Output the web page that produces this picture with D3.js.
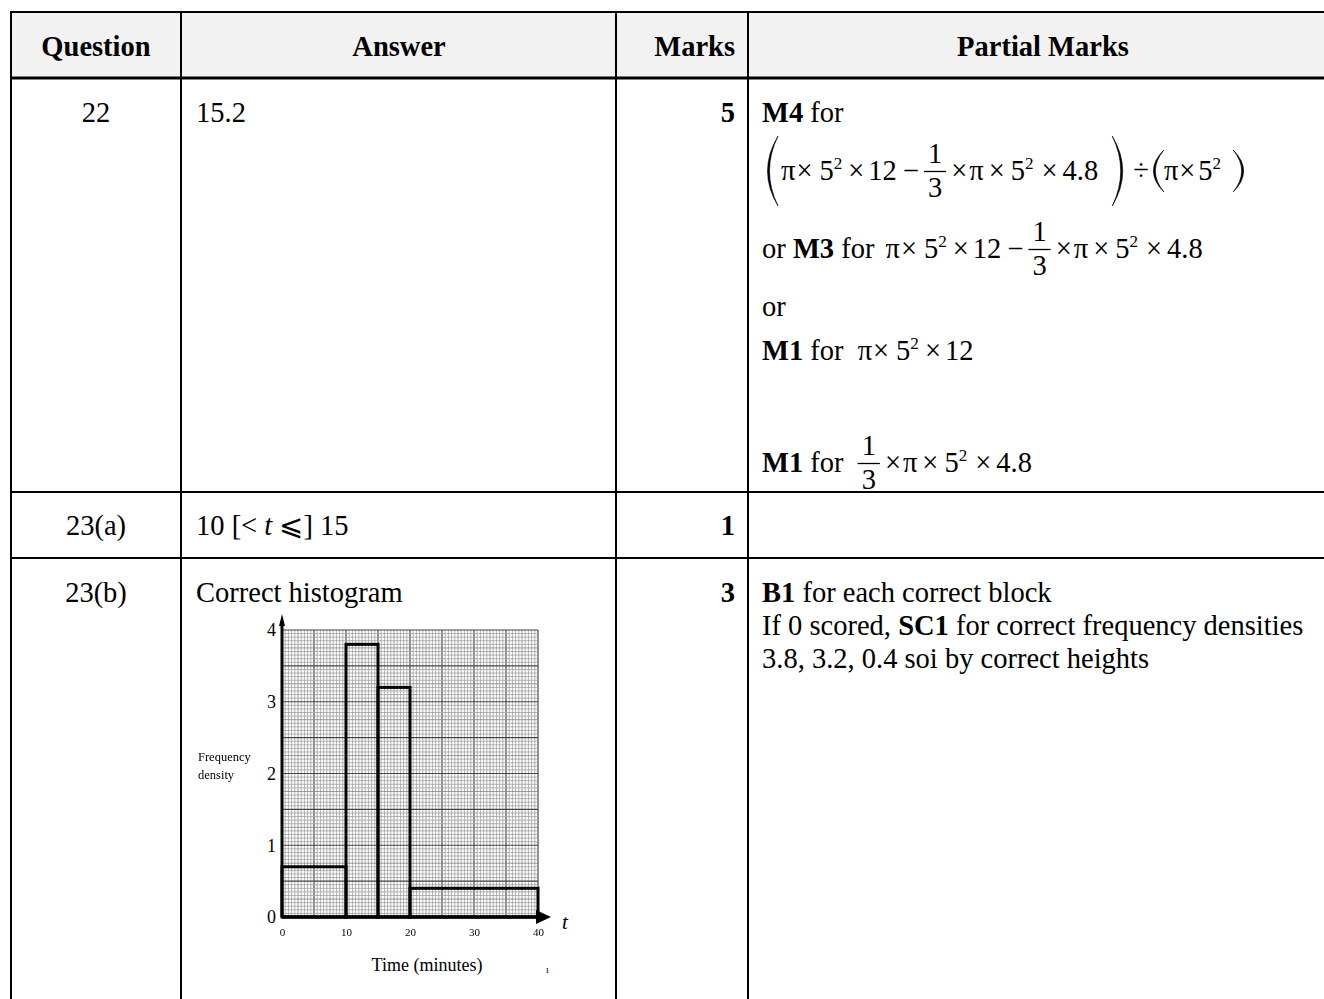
<!DOCTYPE html>
<html>
<head>
<meta charset="utf-8">
<script src="https://cdn.jsdelivr.net/npm/d3@7/dist/d3.min.js"></script>
<style>
  body { margin: 0; background: #fff; }
  svg { display: block; }
  text { font-family: "Liberation Serif", "Times New Roman", serif; fill: #000; white-space: pre; }
</style>
</head>
<body>
<svg id="chart" width="1324" height="999"></svg>
<script>
// histogram values (23(b))
var binStarts = [0, 10, 15, 20];
var binEnds = [10, 15, 20, 40];
var densities = [0.7, 3.8, 3.2, 0.4];
var xTicks = [0, 10, 20, 30, 40];
var yTicks = [0, 1, 2, 3, 4];

// table text
var headers = ["Question", "Answer", "Marks", "Partial Marks"];
var questions = ["22", "23(a)", "23(b)"];
var marks = ["5", "1", "3"];
var answers = [
  ["15.2"],
  ["10 [< ", {i: "t"}, " \u2A7D] 15"],
  ["Correct histogram"]
];
var partial23b = [
  [{b: "B1"}, " for each correct block"],
  ["If 0 scored, ", {b: "SC1"}, " for correct frequency densities"],
  ["3.8, 3.2, 0.4 soi by correct heights"]
];

var SIZE = 28.5;
var svg = d3.select("#chart");

// column / row borders
var colX = [11, 181, 616, 748];
var rowY = [12, 78, 492, 558];
var baseY = [122, 535, 602];

svg.append("rect").attr("x", 11).attr("y", 12).attr("width", 1313).attr("height", 66).attr("fill", "#f2f2f2");

// lays out a row of text pieces left to right, measuring each one
function put(g, x, y, items) {
  var cx = x;
  items.forEach(function (it) {
    if (typeof it === "number") { cx += it; return; }
    if (typeof it === "string") it = {t: it};
    if (it.f) {
      var num = g.append("text").attr("y", y - 17).attr("font-size", SIZE).attr("text-anchor", "middle").text(it.f[0]);
      var den = g.append("text").attr("y", y + 17).attr("font-size", SIZE).attr("text-anchor", "middle").text(it.f[1]);
      var w = Math.max(num.node().getComputedTextLength(), den.node().getComputedTextLength()) + 8;
      num.attr("x", cx + w / 2);
      den.attr("x", cx + w / 2);
      g.append("line").attr("x1", cx).attr("x2", cx + w).attr("y1", y - 8.5).attr("y2", y - 8.5)
        .attr("stroke", "#000").attr("stroke-width", 1.3);
      cx += w;
      return;
    }
    if (it.p) {
      var t = y + it.h[0], b = y + it.h[1], m = (t + b) / 2, pw = 11, d;
      if (it.p === "(") {
        d = "M" + (cx + pw) + "," + t + "Q" + (cx + 1 - pw) + "," + m + " " + (cx + pw) + "," + b +
            "Q" + (cx + 5 - pw) + "," + m + " " + (cx + pw) + "," + t + "Z";
      } else {
        d = "M" + cx + "," + t + "Q" + (cx + 2 * pw - 1) + "," + m + " " + cx + "," + b +
            "Q" + (cx + 2 * pw - 5) + "," + m + " " + cx + "," + t + "Z";
      }
      g.append("path").attr("d", d).attr("fill", "#000").attr("stroke", "#000").attr("stroke-width", 0.6);
      cx += pw;
      return;
    }
    var el = g.append("text")
      .attr("x", cx)
      .attr("y", it.s ? y - 11 : y)
      .attr("font-size", it.s ? SIZE * 0.6 : SIZE)
      .attr("font-weight", it.b ? "bold" : null)
      .attr("font-style", it.i ? "italic" : null)
      .text(it.s || it.b || it.i || it.t);
    cx += el.node().getComputedTextLength();
  });
  return cx;
}

var body = svg.append("g");

// header row
body.append("text").attr("x", 96).attr("y", 56).attr("text-anchor", "middle").attr("font-size", SIZE).attr("font-weight", "bold").text(headers[0]);
body.append("text").attr("x", 399).attr("y", 56).attr("text-anchor", "middle").attr("font-size", SIZE).attr("font-weight", "bold").text(headers[1]);
body.append("text").attr("x", 735).attr("y", 56).attr("text-anchor", "end").attr("font-size", SIZE).attr("font-weight", "bold").text(headers[2]);
body.append("text").attr("x", 1043).attr("y", 56).attr("text-anchor", "middle").attr("font-size", SIZE).attr("font-weight", "bold").text(headers[3]);

questions.forEach(function (q, i) {
  body.append("text").attr("x", 96).attr("y", baseY[i]).attr("text-anchor", "middle").attr("font-size", SIZE).text(q);
  body.append("text").attr("x", 735).attr("y", baseY[i]).attr("text-anchor", "end").attr("font-size", SIZE).attr("font-weight", "bold").text(marks[i]);
  put(body, 196, baseY[i], answers[i]);
});

// question 22 partial marks
var TIMES = "\u00D7", MINUS = "\u2212", PI = "\u03C0";
var third = {f: ["1", "3"]};
var cyl = [PI, 1, TIMES, 7, "5", {s: "2"}, 6, TIMES, 4, "12"];
var cone = [third, 5, TIMES, 2, PI, 5, TIMES, 6, "5", {s: "2"}, 8, TIMES, 5, "4.8"];
var vol = cyl.concat([6, MINUS, 5], cone);
put(body, 762, baseY[0], [{b: "M4"}, " for"]);
put(body, 767, 180, [{p: "(", h: [-44, 26]}, 3].concat(vol,
  [14, {p: ")", h: [-44, 26]}, 10, "\u00F7", 4, {p: "(", h: [-30, 12]}, 0, PI, 1, TIMES, 3, "5", {s: "2"}, 12, {p: ")", h: [-30, 12]}]));
put(body, 762, 258, ["or ", {b: "M3"}, " for ", 4].concat(vol));
put(body, 762, 316, ["or"]);
put(body, 762, 360, [{b: "M1"}, " for ", 7].concat(cyl));
put(body, 762, 472, [{b: "M1"}, " for ", 7].concat(cone));

partial23b.forEach(function (ln, i) {
  put(body, 762, baseY[2] + i * 33, ln);
});

// histogram
var x = d3.scaleLinear().domain([0, 40]).range([282, 538]);
var y = d3.scaleLinear().domain([0, 4]).range([917, 630]);

var defs = svg.append("defs");
defs.append("filter").attr("id", "soft").append("feGaussianBlur").attr("stdDeviation", 0.45);
defs.append("filter").attr("id", "fade").append("feGaussianBlur").attr("stdDeviation", 0.6);

var grid = svg.append("g").attr("filter", "url(#soft)");
grid.selectAll("line.v").data(d3.range(0, 40.01, 0.5)).join("line")
  .attr("x1", d => x(d)).attr("x2", d => x(d)).attr("y1", y(4)).attr("y2", y(0))
  .attr("stroke", d => d % 5 === 0 ? "#444" : (d % 2.5 === 0 ? "#888" : "#a4a4a4"))
  .attr("stroke-width", d => d % 5 === 0 ? 1.2 : 0.85);
grid.selectAll("line.h").data(d3.range(0, 80.5, 1)).join("line")
  .attr("x1", x(0)).attr("x2", x(40)).attr("y1", d => y(d / 20)).attr("y2", d => y(d / 20))
  .attr("stroke", d => d % 10 === 0 ? "#444" : (d % 5 === 0 ? "#888" : "#a4a4a4"))
  .attr("stroke-width", d => d % 10 === 0 ? 1.2 : 0.85);

svg.append("g").selectAll("rect").data(densities).join("rect")
  .attr("x", (d, i) => x(binStarts[i]))
  .attr("width", (d, i) => x(binEnds[i]) - x(binStarts[i]))
  .attr("y", d => y(d))
  .attr("height", d => y(0) - y(d))
  .attr("fill", "none").attr("stroke", "#000").attr("stroke-width", 3);

// axes
var yAxis = svg.append("g").attr("transform", "translate(" + x(0) + ",0)")
  .call(d3.axisLeft(y).tickValues(yTicks).tickSize(0).tickPadding(6).tickFormat(d3.format("d")));
yAxis.select(".domain").remove();
yAxis.selectAll("text").attr("font-size", 18).style("font-family", "Liberation Serif, serif").attr("fill", "#000");

var xAxis = svg.append("g").attr("transform", "translate(0," + y(0) + ")").attr("filter", "url(#fade)")
  .call(d3.axisBottom(x).tickValues(xTicks).tickSize(0).tickPadding(11));
xAxis.select(".domain").remove();
xAxis.selectAll("text").attr("font-size", 11).style("font-family", "Liberation Serif, serif").attr("fill", "#8a8a8a");

svg.append("line").attr("x1", x(0)).attr("x2", 540).attr("y1", y(0)).attr("y2", y(0)).attr("stroke", "#000").attr("stroke-width", 3.4);
svg.append("path").attr("d", "M536," + (y(0) - 7) + "L551," + y(0) + "L536," + (y(0) + 7) + "Z").attr("fill", "#000");
svg.append("line").attr("x1", x(0)).attr("x2", x(0)).attr("y1", y(0)).attr("y2", 622).attr("stroke", "#000").attr("stroke-width", 3);
svg.append("path").attr("d", "M" + (x(0) - 3) + ",626L" + x(0) + ",614L" + (x(0) + 3) + ",626Z").attr("fill", "#000");

svg.append("text").attr("x", 562).attr("y", 929).attr("font-size", 21).attr("font-style", "italic").text("t");
svg.append("text").attr("x", 427).attr("y", 971).attr("text-anchor", "middle").attr("font-size", 18).text("Time (minutes)");
svg.append("text").attr("x", 546).attr("y", 973).attr("font-size", 10).attr("fill", "#777").text("\u0131");

var fl = svg.append("g").attr("filter", "url(#fade)");
fl.append("text").attr("x", 198).attr("y", 761).attr("font-size", 12.5).attr("fill", "#8f8f8f").text("Frequency");
fl.append("text").attr("x", 198).attr("y", 779).attr("font-size", 12.5).attr("fill", "#8f8f8f").text("density");

// table borders
var lines = svg.append("g").attr("stroke", "#000");
colX.forEach(function (cx) {
  lines.append("line").attr("x1", cx).attr("x2", cx).attr("y1", 12).attr("y2", 999).attr("stroke-width", 2);
});
rowY.forEach(function (ry, i) {
  lines.append("line").attr("x1", 10).attr("x2", 1324).attr("y1", ry).attr("y2", ry).attr("stroke-width", i === 1 ? 3 : 2);
});
</script>
</body>
</html>
